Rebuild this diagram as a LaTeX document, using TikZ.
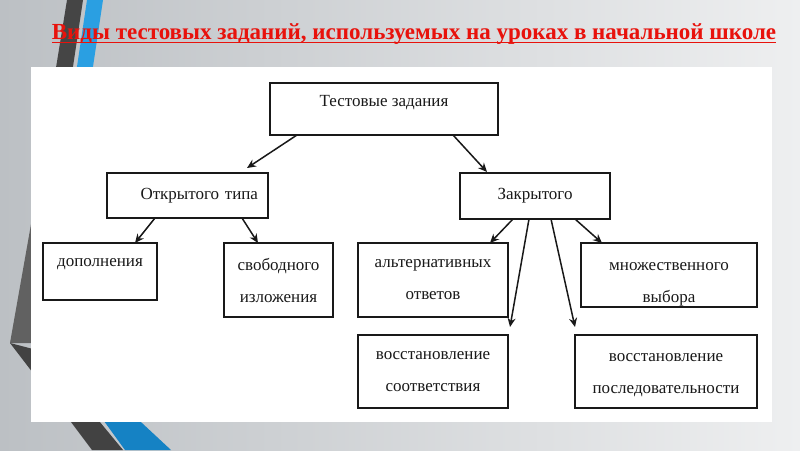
\documentclass[tikz,border=0pt]{standalone}
\usepackage{fontspec}
\setmainfont{Liberation Serif}
\usepackage{xcolor}
\usepackage{tikz}
\usetikzlibrary{arrows.meta, positioning}

\definecolor{bgdark}{HTML}{BCC0C4}
\definecolor{bglight}{HTML}{EEEFF0}
\definecolor{stripedark}{HTML}{454545}
\definecolor{stripeblue}{HTML}{2A9FE2}
\definecolor{stripebluedeep}{HTML}{1582C4}
\definecolor{titlered}{HTML}{E8120C}
\newcommand{\titleul}[1]{\setbox0\hbox{#1}\dp0=0pt\vtop{\box0\kern2.5pt\hrule height 1.5pt}}

\begin{document}
\begin{tikzpicture}[x=1pt, y=-1pt,
box/.style={rectangle, draw=black!90, line width=1.8pt, outer sep=0pt, fill=white, inner sep=0pt, align=center, text=black!90, font=\fontsize{17}{32}\selectfont},
link/.style={-{Stealth[length=9pt, width=8pt]}, line width=1.5pt, black!90}
]
	\useasboundingbox (0,0) rectangle (800,450);
	% slide background and theme stripes
	\fill[left color=bgdark, right color=bglight] (0,0) rectangle (800,450);
	\fill[stripedark] (67,0) -- (83,0) -- (71,80) -- (54,80) -- cycle;
	\fill[stripeblue] (87,0) -- (103,0) -- (91,80) -- (75,80) -- cycle;
	\fill[stripedark!85] (33,213) -- (10,343) -- (33,343) -- cycle;
	\fill[stripedark!95!black] (10,343) -- (33,349) -- (33,373) -- cycle;
	\fill[stripedark!95!black] (62,410) -- (90,410) -- (123,450) -- (92,450) -- cycle;
	\fill[stripebluedeep] (96,410) -- (128,410) -- (171,450) -- (125,450) -- cycle;
	\fill[white] (31,67) rectangle (772,422);
	% title
	\node[text=titlered, anchor=base, inner sep=0pt, font=\fontsize{23}{27}\selectfont\bfseries] (title) at (414,39) {\titleul{Виды тестовых заданий, используемых на уроках в начальной школе}};
	% diagram
	\node[box, minimum width=228pt, minimum height=52pt, text height=11pt, text depth=17pt] (test) at (384,109) {Тестовые задания};
	\node[box, anchor=north east, shift={(-2,38)}, minimum width=161pt, minimum height=45pt, text width=141pt, align=right] (open) at (test.south west) {Открытого типа};
	\node[box, anchor=north west, shift={(-38,38)}, minimum width=150pt, minimum height=46pt] (closed) at (test.south east) {Закрытого};
	\node[box, anchor=north west, shift={(-64,25)}, minimum width=114pt, minimum height=57pt, text height=11pt, text depth=21pt] (dop) at (open.south west) {дополнения};
	\node[box, anchor=north east, shift={(65,25)}, minimum width=109pt, minimum height=74pt] (free) at (open.south east) {свободного\\изложения};
	\node[box, anchor=north east, shift={(48,24)}, minimum width=150pt, minimum height=74pt] (alt) at (closed.south west) {альтернативных\\ответов};
	\node[box, anchor=north west, shift={(-29,24)}, minimum width=176pt, minimum height=64pt, text height=59pt] (mult) at (closed.south east) {множественного\\выбора};
	\node[box, anchor=north, shift={(0,18)}, minimum width=150pt, minimum height=73pt] (match) at (alt.south) {восстановление\\соответствия};
	\node[box, anchor=north west, shift={(-6,28)}, minimum width=182pt, minimum height=73pt, text height=48pt] (seq) at (mult.south west) {восстановление\\последовательности};
	\draw[link] ([shift={(-87,0)}]test.south) -- ([shift={(59.5,-5)}]open.north);
	\draw[link] ([shift={(69,0)}]test.south) -- ([shift={(-48,-1)}]closed.north);
	\draw[link] ([shift={(-32.5,0)}]open.south) -- ([shift={(35,0)}]dop.north);
	\draw[link] ([shift={(54.5,0)}]open.south) -- ([shift={(-20.5,0)}]free.north);
	\draw[link] ([shift={(-22,0)}]closed.south) -- ([shift={(57,0)}]alt.north);
	\draw[link] ([shift={(-6,0)}]closed.south) -- ([shift={(77,-8)}]match.north);
	\draw[link] ([shift={(16,0)}]closed.south) -- ([shift={(-91,-8)}]seq.north);
	\draw[link] ([shift={(40,0)}]closed.south) -- ([shift={(-67,0)}]mult.north);
\end{tikzpicture}
\end{document}
